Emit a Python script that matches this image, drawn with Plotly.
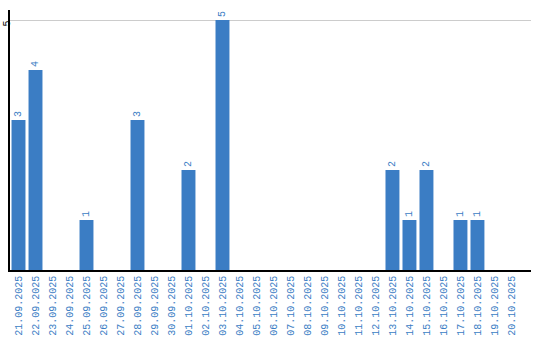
import plotly.graph_objects as go

dates = ["21.09.2025","22.09.2025","23.09.2025","24.09.2025","25.09.2025","26.09.2025",
         "27.09.2025","28.09.2025","29.09.2025","30.09.2025","01.10.2025","02.10.2025",
         "03.10.2025","04.10.2025","05.10.2025","06.10.2025","07.10.2025","08.10.2025",
         "09.10.2025","10.10.2025","11.10.2025","12.10.2025","13.10.2025","14.10.2025",
         "15.10.2025","16.10.2025","17.10.2025","18.10.2025","19.10.2025","20.10.2025"]
counts = [3,4,0,0,1,0,0,3,0,0,2,0,5,0,0,0,0,0,0,0,0,0,2,1,2,0,1,1,0,0]

blue = "#3b7dc4"
labels = [str(v) if v > 0 else "" for v in counts]
mono = "Liberation Mono"

fig = go.Figure(go.Bar(
    x=dates, y=counts, marker_color=blue, marker_line_width=0,
    text=labels, textposition="outside", textangle=-90,
    textfont=dict(color=blue, size=10, family=mono),
    cliponaxis=False, width=0.82,
))
fig.update_layout(
    width=540, height=340, margin=dict(l=10, r=9, t=10, b=70),
    plot_bgcolor="white", paper_bgcolor="white", showlegend=False,
    font=dict(family=mono, size=10, color=blue),
)
fig.update_xaxes(type="category", range=[-0.5, 30.15], showline=True, linecolor="black", linewidth=1.5,
                 tickangle=-90, tickfont=dict(color=blue, size=10, family=mono),
                 ticks="", automargin=False, showgrid=False)
fig.update_yaxes(range=[0, 5.2], tickvals=[5], ticktext=["5"], tickangle=-90,
                 showline=True, linecolor="black", linewidth=1.5,
                 gridcolor="#cccccc", gridwidth=1, zeroline=False, ticks="",
                 ticklabelstandoff=-6, ticklabelshift=5,
                 tickfont=dict(color="black", size=10, family=mono),
                 automargin=False)
fig.write_html("out.html")
